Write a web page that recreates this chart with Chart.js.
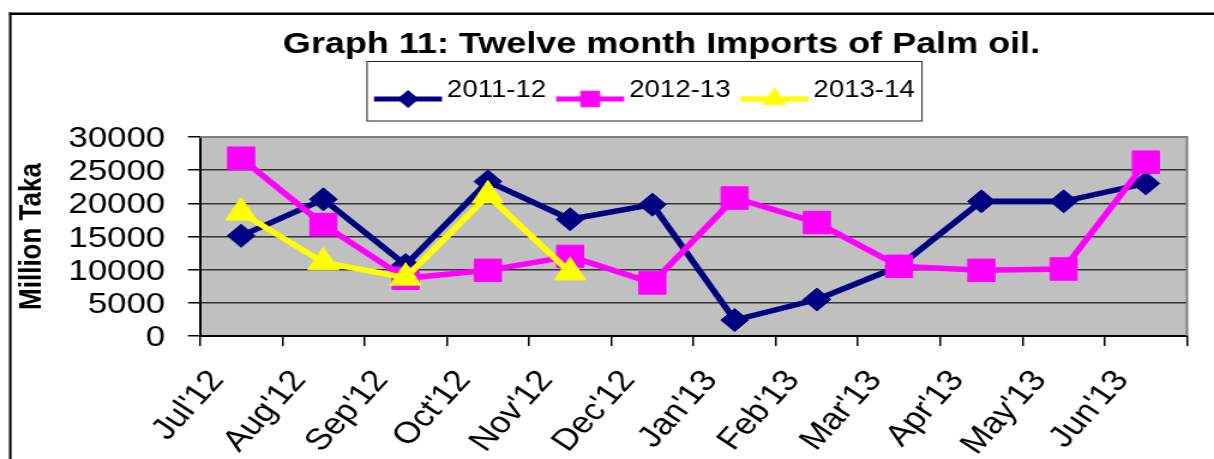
<!DOCTYPE html>
<html>
<head>
<meta charset="utf-8">
<script src="https://cdn.jsdelivr.net/npm/chart.js@4.4.0/dist/chart.umd.min.js"></script>
<style>
html,body{margin:0;padding:0;background:#fff;overflow:hidden}
canvas{display:block}
</style>
</head>
<body>
<canvas id="c" width="1012" height="459" style="width:1214px;height:459px"></canvas>
<script>
// ---- data ----
const months = ["Jul'12","Aug'12","Sep'12","Oct'12","Nov'12","Dec'12","Jan'13","Feb'13","Mar'13","Apr'13","May'13","Jun'13"];
const imports2011_12 = [15100, 20600, 10700, 23300, 17600, 19800, 2400, 5500, 10500, 20300, 20300, 23000];
const imports2012_13 = [26800, 16800, 8700, 9900, 12000, 8000, 20800, 17100, 10500, 9900, 10100, 26200];
const imports2013_14 = [18600, 11100, 8800, 21200, 9600, null, null, null, null, null, null, null];
const seriesNames = ['2011-12', '2012-13', '2013-14'];
const yMin = 0, yMax = 30000, yStep = 5000;
const chartTitle = 'Graph 11: Twelve month Imports of Palm oil.';
const yAxisTitle = 'Million Taka';

// ---- style ----
const FONT = "'Liberation Sans', Arial, sans-serif";
const SX = 1214 / 1012;            // the reference is stretched horizontally
const px = v => v / SX;            // reference x -> canvas x
const colors = ['#000080', '#FF00FF', '#FFFF00'];
const styles = ['rectRot', 'rect', 'triangle'];
const radii = [11.5, 15.9, 15];

function drawMarker(ctx, style, x, y, r, color) {
  ctx.save();
  ctx.fillStyle = color; ctx.strokeStyle = color; ctx.lineWidth = 1;
  ctx.beginPath();
  if (style === 'rectRot') {
    ctx.moveTo(x, y - r); ctx.lineTo(x + r, y); ctx.lineTo(x, y + r); ctx.lineTo(x - r, y);
  } else if (style === 'rect') {
    const h = r * Math.SQRT1_2; ctx.rect(x - h, y - h, 2 * h, 2 * h);
  } else {
    ctx.moveTo(x, y - r);
    ctx.lineTo(x + r * Math.sin(2 * Math.PI / 3), y + r / 2);
    ctx.lineTo(x - r * Math.sin(2 * Math.PI / 3), y + r / 2);
  }
  ctx.closePath(); ctx.fill(); ctx.stroke();
  ctx.restore();
}

const decor = {
  id: 'decor',
  beforeDraw(chart) {
    const {ctx, chartArea: a} = chart;
    ctx.save();
    ctx.fillStyle = '#fff';
    ctx.fillRect(0, 0, chart.width, chart.height);
    ctx.fillStyle = '#C0C0C0';
    ctx.fillRect(a.left, a.top, a.right - a.left, a.bottom - a.top);
    ctx.restore();
  },
  beforeDatasetsDraw(chart) {
    const {ctx, chartArea: a} = chart;
    ctx.save();
    ctx.strokeStyle = '#808080';
    ctx.lineWidth = 2;
    ctx.beginPath();
    ctx.moveTo(a.left, a.top); ctx.lineTo(a.right, a.top); ctx.lineTo(a.right, a.bottom);
    ctx.stroke();
    ctx.restore();
  },
  afterDraw(chart) {
    const ctx = chart.ctx;
    ctx.save();
    // outer frame
    ctx.fillStyle = '#000';
    ctx.fillRect(px(9), 12.5, px(2.5), chart.height);
    ctx.fillRect(px(9), 12.5, chart.width, 2.5);
    // title
    ctx.fillStyle = '#000';
    ctx.font = 'bold 30px ' + FONT;
    ctx.textAlign = 'center';
    ctx.textBaseline = 'alphabetic';
    ctx.fillText(chartTitle, px(661.5), 53);
    // legend box
    ctx.strokeStyle = '#222';
    ctx.lineWidth = 1;
    ctx.strokeRect(px(367), 61.5, px(922) - px(367), 59.5);
    // legend items
    ctx.font = '23px ' + FONT;
    ctx.textAlign = 'left';
    let x = px(374);
    const ly = 99, tb = 97;
    chart.data.datasets.forEach((ds, i) => {
      const len = px(68);
      ctx.strokeStyle = colors[i];
      ctx.lineWidth = 5;
      ctx.beginPath(); ctx.moveTo(x, ly); ctx.lineTo(x + len, ly); ctx.stroke();
      drawMarker(ctx, styles[i], x + len / 2, ly, [8.5, 11, 11][i], colors[i]);
      const tx = x + len + px(5);
      ctx.fillStyle = '#000';
      ctx.fillText(ds.label, tx, tb);
      x = tx + ctx.measureText(ds.label).width + px(10);
    });
    ctx.restore();
  }
};

const seriesData = [imports2011_12, imports2012_13, imports2013_14];
const datasets = seriesData.map((d, i) => ({
  label: seriesNames[i],
  data: d,
  borderColor: colors[i],
  backgroundColor: colors[i],
  borderWidth: 5.5,
  tension: 0,
  spanGaps: false,
  pointStyle: styles[i],
  pointRadius: radii[i],
  pointHoverRadius: radii[i],
  pointBorderWidth: 1,
  pointBackgroundColor: colors[i],
  pointBorderColor: colors[i],
  order: 3 - i
}));

new Chart(document.getElementById('c'), {
  type: 'line',
  data: { labels: months, datasets },
  options: {
    responsive: false,
    animation: false,
    devicePixelRatio: 1,
    events: [],
    layout: { padding: { left: 0, top: 137, right: 1012 - px(1187), bottom: 0 } },
    plugins: { legend: { display: false }, title: { display: false }, tooltip: { enabled: false } },
    scales: {
      x: {
        offset: true,
        grid: { offset: true, drawOnChartArea: false, tickLength: 10, color: '#000', lineWidth: 1.5 },
        border: { color: '#000', width: 2 },
        ticks: {
          autoSkip: false, maxRotation: 52, minRotation: 52, color: '#000',
          font: { family: FONT, size: 30 }, padding: 18, labelOffset: -20
        },
        afterFit(s) { s.height = 459 - 336; }
      },
      y: {
        min: yMin, max: yMax,
        ticks: {
          stepSize: yStep, autoSkip: false, color: '#000',
          font: { family: FONT, size: 29 }, padding: 19, labelOffset: 2,
          callback: v => String(v)
        },
        grid: { color: '#333', lineWidth: 1.5, tickLength: 10, tickColor: '#000' },
        border: { color: '#000', width: 2 },
        title: { display: true, text: yAxisTitle, color: '#000', font: { family: FONT, size: 26, weight: 'bold' }, padding: { top: 11, bottom: 0 } },
        afterFit(s) { s.width = px(200); }
      }
    }
  },
  plugins: [decor]
});
</script>
</body>
</html>
